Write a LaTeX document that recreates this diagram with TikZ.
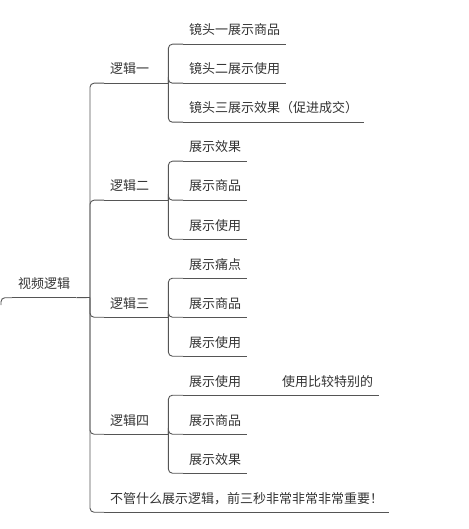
\documentclass[tikz,border=0pt]{standalone}
\usepackage{fontspec}
\setmainfont{Noto Sans CJK SC}
\usetikzlibrary{positioning}
\definecolor{inkc}{HTML}{333333}
\definecolor{linec}{HTML}{555555}
\tikzset{
  topic/.style={anchor=base west, inner xsep=6pt, inner ysep=7pt,
    text height=11pt, text depth=2pt, text=inkc,
    font=\fontsize{13pt}{15pt}\selectfont},
  uline/.style={draw=linec, line width=0.9pt},
  link/.style={draw=linec, line width=0.9pt, rounded corners=4pt},
}
\begin{document}
\begin{tikzpicture}[x=1pt, y=-1pt]
    \useasboundingbox (0,0) rectangle (468,529);

    % root and main branches
    \node[topic] (root) at (12,288.5) {视频逻辑};
    \node[topic] (l1) at (104,74) {逻辑一};
    \node[topic] (l2) at (104,191) {逻辑二};
    \node[topic] (l3) at (104,308) {逻辑三};
    \node[topic] (l4) at (104,425) {逻辑四};
    \node[topic] (note) at (104,503) {不管什么展示逻辑，前三秒非常非常非常重要！};

    % sub topics
    \node[topic] (a1) at (183,35) {镜头一展示商品};
    \node[topic] (a2) at (183,74) {镜头二展示使用};
    \node[topic] (a3) at (183,113) {镜头三展示效果（促进成交）};

    \node[topic] (b1) at (183,152) {展示效果};
    \node[topic] (b2) at (183,191) {展示商品};
    \node[topic] (b3) at (183,230) {展示使用};

    \node[topic] (c1) at (183,269) {展示痛点};
    \node[topic] (c2) at (183,308) {展示商品};
    \node[topic] (c3) at (183,347) {展示使用};

    \node[topic] (d1) at (183,386) {展示使用};
    \node[topic] (d2) at (183,425) {展示商品};
    \node[topic] (d3) at (183,464) {展示效果};

    \node[topic] (e1) at (276,386) {使用比较特别的};

    % underlines
    \foreach \n in {root,l1,l2,l3,l4,note,a1,a2,a3,b1,b2,b3,c1,c2,c3,d1,d2,d3,e1}
        \draw[uline] (\n.south west) -- (\n.south east);

    % connectors
    \coordinate (rin) at (1,305);
    \coordinate (J) at (90,297.5);
    \draw[link] (rin) |- (root.south west);
    \draw[link] (root.south east) -- (J);
    \foreach \b in {l1,l2,l3,l4,note}
        \draw[link] (J) |- (\b.south west);

    \foreach \b/\c in {l1/a,l2/b,l3/c,l4/d} {
        \draw[link] (\b.south east) -- ([xshift=13pt]\b.south east);
        \foreach \i in {1,2,3}
            \draw[link] ([xshift=13pt]\b.south east) |- (\c\i.south west);
    }
    \draw[link] (d1.south east) -- (e1.south west);
\end{tikzpicture}
\end{document}
